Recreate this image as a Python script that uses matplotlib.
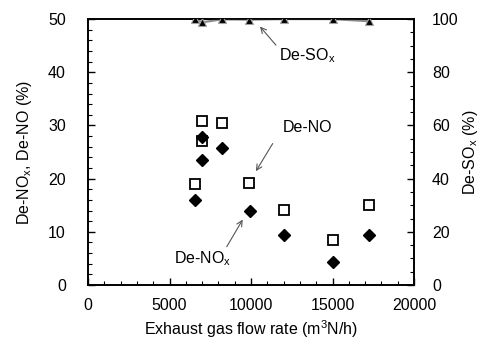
import numpy as np
import matplotlib
matplotlib.use("Agg")
import matplotlib.pyplot as plt
from matplotlib.ticker import MultipleLocator

plt.rcParams['font.family'] = ['Liberation Sans', 'DejaVu Sans']
plt.rcParams['mathtext.fontset'] = 'custom'
plt.rcParams['mathtext.rm'] = 'Liberation Sans'
plt.rcParams['mathtext.it'] = 'Liberation Sans'

# De-NO (open squares)
no_flow = [6560, 7010, 7010, 8240, 9900, 12020, 15000, 17260]
no_eff = [18.9, 30.9, 27.1, 30.4, 19.2, 14.1, 8.5, 15.0]

# De-NOx (filled diamonds)
nox_flow = [6560, 7000, 7000, 8200, 9920, 12020, 15000, 17260]
nox_eff = [16.0, 27.9, 23.5, 25.7, 14.0, 9.4, 4.3, 9.4]

# De-SOx (triangles, right axis)
sox_flow = [6560, 7000, 8200, 9900, 12020, 15000, 17260]
sox_eff = [100, 98.8, 99.9, 99.8, 100, 100, 99.2]

fig = plt.figure(figsize=(4.82, 3.41), dpi=100)
ax = fig.add_axes([0.1826, 0.1642, 0.859 - 0.1826, 0.944 - 0.1642])
ax2 = ax.twinx()

ax.plot(no_flow, no_eff, 's', ms=7, mfc='white', mec='black', mew=1.3, zorder=3)
ax.plot(nox_flow, nox_eff, 'D', ms=6, mfc='black', mec='black', zorder=3)
ax2.plot(sox_flow, sox_eff, '-', color='#8c8c8c', lw=1.6, zorder=2)
ax2.plot(sox_flow, sox_eff, '^', ms=5.5, mfc='black', mec='#a0a0a0', mew=0.8, zorder=3)

ax.set_xlim(0, 20000)
ax.set_ylim(0, 50)
ax2.set_ylim(0, 100)

ax.xaxis.set_major_locator(MultipleLocator(5000))
ax.xaxis.set_minor_locator(MultipleLocator(1000))
ax.yaxis.set_major_locator(MultipleLocator(10))
ax.yaxis.set_minor_locator(MultipleLocator(2))
ax2.yaxis.set_major_locator(MultipleLocator(20))
ax2.yaxis.set_minor_locator(MultipleLocator(5))

fs = 11.5
ax.tick_params(which='both', direction='in', labelsize=fs, top=False)
ax.tick_params(which='major', length=5, width=1)
ax.tick_params(which='minor', length=3, width=0.8)
ax2.tick_params(which='both', direction='in', labelsize=fs)
ax2.tick_params(which='major', length=5, width=1)
ax2.tick_params(which='minor', length=3, width=0.8)
ax.tick_params(axis='x', pad=9)
ax.tick_params(axis='y', pad=16)
ax2.tick_params(axis='y', pad=13)

for a in (ax, ax2):
    for s in a.spines.values():
        s.set_linewidth(1.2)

ax.set_xlabel('Exhaust gas flow rate (m$^{3}$N/h)', fontsize=fs, labelpad=4)
ax.set_ylabel('De-NO$_{\\mathrm{x}}$, De-NO (%)', fontsize=fs, labelpad=10)
ax2.set_ylabel('De-SO$_{\\mathrm{x}}$ (%)', fontsize=fs, labelpad=2)

arrow = dict(arrowstyle='->', color='#555555', lw=0.8, shrinkA=0, shrinkB=0)
ax.annotate('', xy=(10550, 48.6), xytext=(11530, 45.1), arrowprops=arrow)
ax.text(13440, 43.2, 'De-SO$_{\\mathrm{x}}$', fontsize=fs, ha='center', va='center')
ax.annotate('', xy=(10300, 21.4), xytext=(11330, 26.6), arrowprops=arrow)
ax.text(13440, 29.7, 'De-NO', fontsize=fs, ha='center', va='center')
ax.annotate('', xy=(9490, 12.3), xytext=(8510, 7.2), arrowprops=arrow)
ax.text(7050, 4.9, 'De-NO$_{\\mathrm{x}}$', fontsize=fs, ha='center', va='center')

fig.savefig('out.png', dpi=100)
